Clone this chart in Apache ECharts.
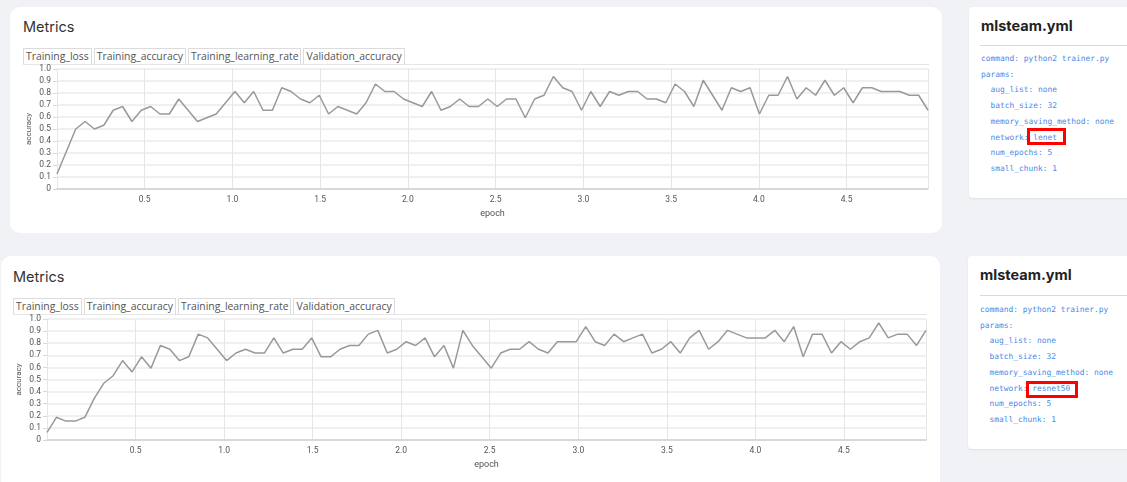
<!DOCTYPE html>
<html>
<head>
<meta charset="utf-8">
<title>Metrics</title>
<script src="https://cdn.jsdelivr.net/npm/echarts@6/dist/echarts.min.js"></script>
<style>
body{margin:0;width:1127px;height:482px;overflow:hidden;background:#f1f2f6;position:relative;font-family:"Open Sans",sans-serif;}
.card{position:absolute;background:#fff;border-radius:10px;}
.side{position:absolute;background:#fff;border-radius:4px;box-shadow:0 1px 2px rgba(0,0,0,0.08);}
.title{position:absolute;font-family:Inter,"Noto Sans",sans-serif;font-size:14.5px;color:#333;}
.tabs{position:absolute;height:16px;border-bottom:1px solid #e6e6e6;}
.tab{display:inline-block;height:15px;line-height:15px;border:1px solid #dcdcdc;border-bottom:none;padding:0 2px;margin-right:2px;font-size:10.4px;color:#555;vertical-align:top;}
.chart{position:absolute;}
.yml{position:absolute;font-family:Inter,"Noto Sans",sans-serif;font-weight:700;font-size:14.5px;color:#222;}
.sep{position:absolute;height:1px;background:#d8d8e2;width:160px;}
.code{position:absolute;font-family:"DejaVu Sans Mono",monospace;font-size:7.9px;line-height:15.7px;color:#4a89e8;white-space:pre;}
.mark{position:absolute;border:3px solid #f00;box-sizing:border-box;}
</style>
</head>
<body>
<div class="card" style="left:10px;top:7px;width:932px;height:226px;"></div>
<div class="title" style="left:23px;top:18px;">Metrics</div>
<div class="tabs" id="tabs1" style="left:23px;top:48px;width:906px;"></div>
<div class="chart" id="chart1" style="left:10px;top:64px;width:932px;height:161px;"></div>

<div class="side" style="left:969px;top:7px;width:170px;height:191px;"></div>
<div class="yml" style="left:981px;top:17px;">mlsteam.yml</div>
<div class="sep" style="left:980px;top:45px;"></div>
<div class="code" id="code1" style="left:981px;top:51px;"></div>
<div class="mark" style="left:1027px;top:128px;width:39px;height:17px;"></div>

<div class="card" style="left:1px;top:256px;width:939px;height:240px;"></div>
<div class="title" style="left:13px;top:268px;">Metrics</div>
<div class="tabs" id="tabs2" style="left:13px;top:298px;width:914px;"></div>
<div class="chart" id="chart2" style="left:1px;top:314px;width:939px;height:168px;"></div>

<div class="side" style="left:968px;top:256px;width:170px;height:193px;"></div>
<div class="yml" style="left:980px;top:266px;">mlsteam.yml</div>
<div class="sep" style="left:980px;top:295px;"></div>
<div class="code" id="code2" style="left:980px;top:302px;"></div>
<div class="mark" style="left:1026px;top:381px;width:52px;height:17px;"></div>

<script>
var tabNames = ['Training_loss','Training_accuracy','Training_learning_rate','Validation_accuracy'];
var epochStep = 0.05337;
var yTicks = ['0','0.1','0.2','0.3','0.4','0.5','0.6','0.7','0.8','0.9','1.0'];

// validation accuracy per step (batch of 32 -> k/32)
var lenetAcc = [0.125,0.3125,0.5,0.5625,0.5,0.53125,0.65625,0.6875,0.5625,0.65625,
	0.6875,0.625,0.625,0.75,0.65625,0.5625,0.59375,0.625,0.71875,0.8125,
	0.71875,0.8125,0.65625,0.65625,0.84375,0.8125,0.75,0.71875,0.78125,0.625,
	0.6875,0.65625,0.625,0.71875,0.875,0.8125,0.8125,0.75,0.71875,0.6875,
	0.8125,0.65625,0.6875,0.75,0.6875,0.6875,0.75,0.6875,0.75,0.75,
	0.59375,0.75,0.78125,0.9375,0.84375,0.8125,0.65625,0.8125,0.6875,0.8125,
	0.78125,0.8125,0.8125,0.75,0.75,0.71875,0.875,0.8125,0.6875,0.90625,
	0.78125,0.65625,0.84375,0.8125,0.84375,0.625,0.78125,0.78125,0.9375,0.75,
	0.84375,0.78125,0.90625,0.78125,0.84375,0.71875,0.84375,0.84375,0.8125,0.8125,
	0.8125,0.78125,0.78125,0.65625];
var resnetAcc = [0.0625,0.1875,0.15625,0.15625,0.1875,0.34375,0.46875,0.53125,0.65625,0.5625,
	0.6875,0.59375,0.78125,0.75,0.65625,0.6875,0.875,0.84375,0.75,0.65625,
	0.71875,0.75,0.71875,0.71875,0.84375,0.71875,0.75,0.75,0.84375,0.6875,
	0.6875,0.75,0.78125,0.78125,0.875,0.90625,0.71875,0.75,0.8125,0.78125,
	0.84375,0.6875,0.78125,0.59375,0.90625,0.78125,0.6875,0.59375,0.71875,0.75,
	0.75,0.8125,0.75,0.71875,0.8125,0.8125,0.8125,0.9375,0.8125,0.78125,
	0.875,0.8125,0.84375,0.875,0.71875,0.75,0.8125,0.71875,0.84375,0.90625,
	0.75,0.8125,0.90625,0.875,0.84375,0.84375,0.84375,0.90625,0.8125,0.9375,
	0.6875,0.875,0.875,0.71875,0.8125,0.75,0.8125,0.84375,0.96875,0.84375,
	0.875,0.875,0.78125,0.90625];

var lenetYml = ['command: python2 trainer.py','params:','  aug_list: none','  batch_size: 32',
	'  memory_saving_method: none','  network: lenet','  num_epochs: 5','  small_chunk: 1'];
var resnetYml = ['command: python2 trainer.py','params:','  aug_list: none','  batch_size: 32',
	'  memory_saving_method: none','  network: resnet50','  num_epochs: 5','  small_chunk: 1'];

function fillTabs(id){
	var html = '';
	tabNames.forEach(function(t){ html += '<span class="tab">'+t+'</span>'; });
	document.getElementById(id).innerHTML = html;
}
fillTabs('tabs1');
fillTabs('tabs2');
document.getElementById('code1').textContent = lenetYml.join('\n');
document.getElementById('code2').textContent = resnetYml.join('\n');

function drawChart(id, vals, gridLeft, gridBottom, yNameGap){
	var pts = [];
	for(var i=0;i<vals.length;i++){
		pts.push([i*epochStep, vals[i]]);
	}
	var option = {
		animation:false,
		grid:{left:gridLeft,right:14,top:5,bottom:gridBottom},
		xAxis:{
			type:'value',
			min:0,
			max:'dataMax',
			interval:0.5,
			name:'epoch',
			nameLocation:'middle',
			nameGap:20,
			nameMoveOverlap:false,
			nameTextStyle:{color:'#555',fontSize:9,fontFamily:'Roboto'},
			axisLine:{show:true,lineStyle:{color:'#cfcfcf',width:1.5}},
			axisTick:{show:false},
			axisLabel:{
				color:'#555',fontSize:8.5,fontFamily:'Roboto',margin:6,
				showMinLabel:false,showMaxLabel:false,
				formatter:function(v){ return v.toFixed(1); }
			},
			splitLine:{show:true,lineStyle:{color:'#e6e6e6',width:1}}
		},
		yAxis:{
			type:'value',
			min:0,
			max:1,
			interval:0.1,
			name:'accuracy',
			nameLocation:'middle',
			nameGap:yNameGap,
			nameMoveOverlap:false,
			nameTextStyle:{color:'#555',fontSize:8,fontFamily:'Roboto'},
			axisLine:{show:false},
			axisTick:{show:true,length:4,lineStyle:{color:'#d8d8d8'}},
			axisLabel:{
				color:'#555',fontSize:8.5,fontFamily:'Roboto',margin:6,
				formatter:function(v){ return yTicks[Math.round(v*10)]; }
			},
			splitLine:{show:true,lineStyle:{color:'#ebebeb',width:1.5}}
		},
		series:[{
			type:'line',
			data:pts,
			symbol:'none',
			lineStyle:{color:'#999',width:1.5}
		}]
	};
	var c = echarts.init(document.getElementById(id));
	c.setOption(option);
	return c;
}
var myChart_1 = drawChart('chart1', lenetAcc, 47, 36, 24);
var myChart_2 = drawChart('chart2', resnetAcc, 46, 42, 24);
</script>
</body>
</html>
